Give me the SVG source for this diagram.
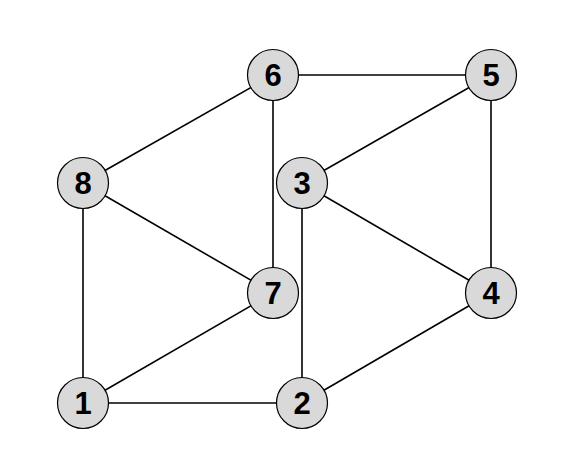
<svg xmlns="http://www.w3.org/2000/svg" width="576" height="476" viewBox="0 0 576 476">
<style>
.n circle{fill:#d9d9d9;stroke:#000;stroke-width:1.2}
.n text{font-family:"Liberation Sans",Arial,sans-serif;font-weight:bold;font-size:31px;text-anchor:middle;dominant-baseline:central;fill:#000}
#edges line{stroke:#000;stroke-width:1.6}
</style>
<rect width="576" height="476" fill="#fff"/>
<g id="edges">
<line x1="273" y1="75" x2="491" y2="75"/>
<line x1="273" y1="75" x2="83" y2="183"/>
<line x1="273" y1="75" x2="273" y2="293"/>
<line x1="491" y1="75" x2="302" y2="183"/>
<line x1="491" y1="75" x2="491" y2="293"/>
<line x1="83" y1="183" x2="273" y2="293"/>
<line x1="83" y1="183" x2="83" y2="403"/>
<line x1="302" y1="183" x2="491" y2="293"/>
<line x1="302" y1="183" x2="302" y2="403"/>
<line x1="273" y1="293" x2="83" y2="403"/>
<line x1="491" y1="293" x2="302" y2="403"/>
<line x1="83" y1="403" x2="302" y2="403"/>
</g>
<g id="node6" class="n"><circle cx="273" cy="75" r="25.5"/><text x="273" y="75">6</text></g>
<g id="node5" class="n"><circle cx="491" cy="75" r="25.5"/><text x="491" y="75">5</text></g>
<g id="node8" class="n"><circle cx="83" cy="183" r="25.5"/><text x="83" y="183">8</text></g>
<g id="node3" class="n"><circle cx="302" cy="183" r="25.5"/><text x="302" y="183">3</text></g>
<g id="node7" class="n"><circle cx="273" cy="293" r="25.5"/><text x="273" y="293">7</text></g>
<g id="node4" class="n"><circle cx="491" cy="293" r="25.5"/><text x="491" y="293">4</text></g>
<g id="node1" class="n"><circle cx="83" cy="403" r="25.5"/><text x="83" y="403">1</text></g>
<g id="node2" class="n"><circle cx="302" cy="403" r="25.5"/><text x="302" y="403">2</text></g>
</svg>
